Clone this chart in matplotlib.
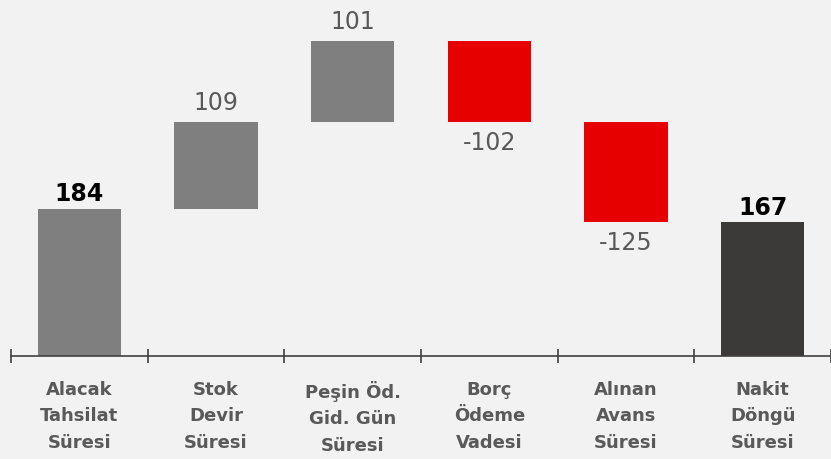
import matplotlib.pyplot as plt

categories = ["Alacak\nTahsilat\nSüresi", "Stok\nDevir\nSüresi", "Peşin Öd.\nGid. Gün\nSüresi",
              "Borç\nÖdeme\nVadesi", "Alınan\nAvans\nSüresi", "Nakit\nDöngü\nSüresi"]
values = [184, 109, 101, -102, -125, 167]
is_total = [True, False, False, False, False, True]

gray = "#7f7f7f"
red = "#e60000"
dark = "#3b3a39"
txt = "#595959"

fig = plt.figure(figsize=(8.31, 4.59), dpi=100)
fig.patch.set_facecolor("#f2f2f2")
ax = fig.add_axes([11 / 831, 103 / 459, 820 / 831, 356 / 459])
ax.set_facecolor("#f2f2f2")

running = 0
for i, (v, tot) in enumerate(zip(values, is_total)):
    if tot and i > 0:
        bottom, height, color = 0, v, dark
    elif tot:
        bottom, height, color = 0, v, gray
        running = v
    else:
        bottom, height = running, v
        color = gray if v > 0 else red
        running += v
    ax.bar(i, height, bottom=bottom, width=0.61, color=color)
    top = bottom + height
    if tot:
        ax.annotate(str(v), (i, top), xytext=(0, 2), textcoords="offset points",
                    ha="center", va="bottom", fontsize=17, fontweight="bold", color="black")
    elif v > 0:
        ax.annotate(str(v), (i, top), xytext=(0, 5), textcoords="offset points",
                    ha="center", va="bottom", fontsize=17, color=txt)
    else:
        ax.annotate(str(v), (i, top), xytext=(0, -6), textcoords="offset points",
                    ha="center", va="top", fontsize=17, color=txt)

ax.set_xlim(-0.5, -0.5 + 820 / 137)
ax.set_ylim(0, 445)
ax.set_yticks([])
for s in ["top", "right", "left"]:
    ax.spines[s].set_visible(False)
ax.spines["bottom"].set_color("#404040")
ax.spines["bottom"].set_linewidth(1.2)
ax.set_xticks([i - 0.5 for i in range(7)])
ax.set_xticklabels([])
ax.tick_params(axis="x", direction="inout", length=10, width=1.2, color="#404040")
for i, c in enumerate(categories):
    ax.annotate(c, (i, 0), xytext=(0, -18), textcoords="offset points", ha="center", va="top",
                fontsize=13, fontweight="bold", color=txt, linespacing=1.6, annotation_clip=False)

fig.savefig("out.png", dpi=100, facecolor=fig.get_facecolor())
